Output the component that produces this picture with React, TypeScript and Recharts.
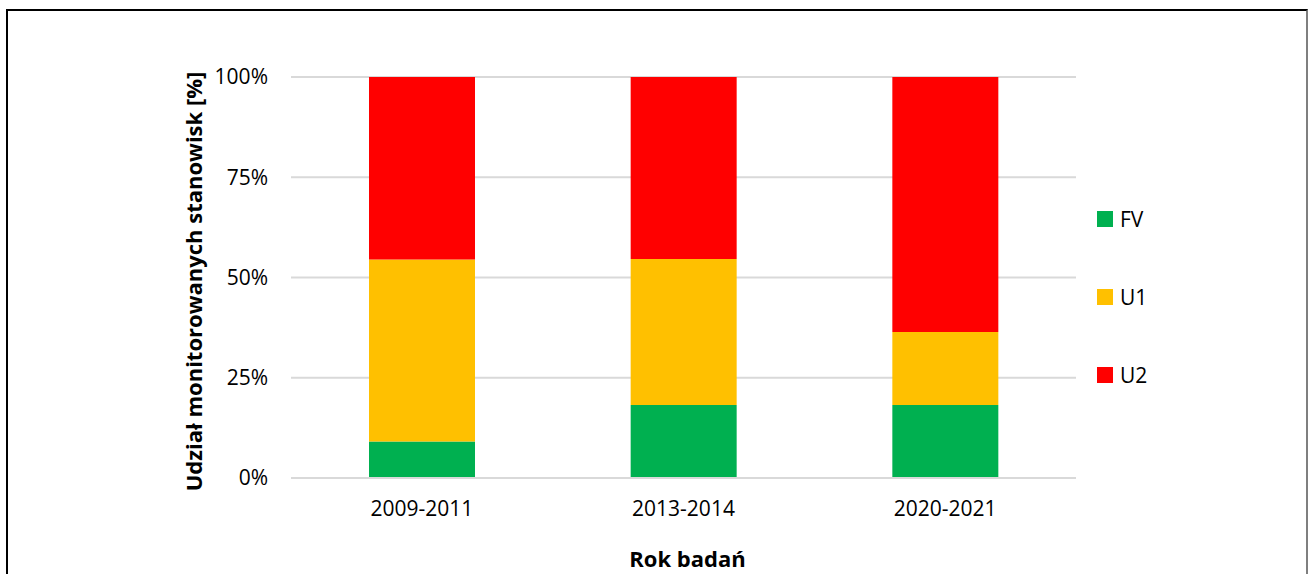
import React from 'react';
import { BarChart, Bar, XAxis, YAxis, CartesianGrid, Legend, Label } from 'recharts';

const periods = ['2009-2011', '2013-2014', '2020-2021'];
const fv = [9.1, 18.2, 18.2];
const u1 = [45.4, 36.4, 18.2];
const u2 = [45.5, 45.4, 63.6];
const yTicks = [0, 25, 50, 75, 100];

const seriesList = [
  { key: 'FV', values: fv, color: '#00B050' },
  { key: 'U1', values: u1, color: '#FFC000' },
  { key: 'U2', values: u2, color: '#FF0000' },
];

const rows = periods.map((period, i) => {
  const row: Record<string, string | number> = { period };
  seriesList.forEach((s) => {
    row[s.key] = s.values[i];
  });
  return row;
});

const FONT = '"Open Sans", sans-serif';

const LegendBox = () => (
  <div style={{ fontFamily: FONT, fontSize: 21, color: '#000' }}>
    {seriesList.map((s) => (
      <div key={s.key} style={{ height: 78, display: 'flex', alignItems: 'center' }}>
        <span style={{ width: 16, height: 16, background: s.color, display: 'inline-block', marginRight: 7 }} />
        <span>{s.key}</span>
      </div>
    ))}
  </div>
);

const YTitle = (props: any) => {
  const { viewBox } = props;
  const cx = viewBox.x + 2;
  const cy = viewBox.y + viewBox.height / 2 + 4;
  return (
    <text
      x={cx}
      y={cy}
      transform={`rotate(-90, ${cx}, ${cy})`}
      textAnchor="middle"
      dominantBaseline="central"
      fontFamily={FONT}
      fontWeight="bold"
      fontSize={22}
      fill="#000"
    >
      Udział monitorowanych stanowisk [%]
    </text>
  );
};

const XTitle = (props: any) => {
  const { viewBox } = props;
  return (
    <text
      x={viewBox.x + viewBox.width / 2 + 4}
      y={558}
      textAnchor="middle"
      dominantBaseline="central"
      fontFamily={FONT}
      fontWeight="bold"
      fontSize={22}
      fill="#000"
    >
      Rok badań
    </text>
  );
};

export default function App() {
  return (
    <div style={{ position: 'absolute', left: 0, top: 0, width: 1309, height: 574, background: '#fff', overflow: 'hidden' }}>
      <div
        style={{
          position: 'absolute',
          left: 6,
          top: 9,
          width: 1302,
          height: 600,
          border: '2px solid #000',
          borderRightColor: '#7f7f7f',
          boxSizing: 'border-box',
        }}
      />
      <div style={{ position: 'absolute', left: 0, top: 0 }}>
        <BarChart
          width={1309}
          height={574}
          data={rows}
          margin={{ top: 77, right: 233, left: 191, bottom: 36 }}
          barSize={106}
        >
          <CartesianGrid vertical={false} stroke="#D9D9D9" strokeWidth={2} />
          <XAxis
            dataKey="period"
            axisLine={{ stroke: '#D9D9D9', strokeWidth: 2 }}
            tickLine={false}
            tickSize={0}
            tickMargin={23}
            height={60}
            tick={{ fill: '#000', fontSize: 21, fontFamily: FONT }}
          >
            <Label content={<XTitle />} />
          </XAxis>
          <YAxis
            width={100}
            domain={[0, 100]}
            ticks={yTicks}
            tickFormatter={(v) => `${v}%`}
            axisLine={false}
            tickLine={false}
            tickSize={0}
            tickMargin={23}
            tick={{ fill: '#000', fontSize: 21, fontFamily: FONT }}
          >
            <Label content={<YTitle />} />
          </YAxis>
          <Legend
            layout="vertical"
            align="center"
            verticalAlign="middle"
            content={<LegendBox />}
            wrapperStyle={{ left: 1097, top: 180, width: 100 }}
          />
          {seriesList.map((s) => (
            <Bar key={s.key} dataKey={s.key} stackId="a" fill={s.color} isAnimationActive={false} />
          ))}
        </BarChart>
      </div>
    </div>
  );
}
